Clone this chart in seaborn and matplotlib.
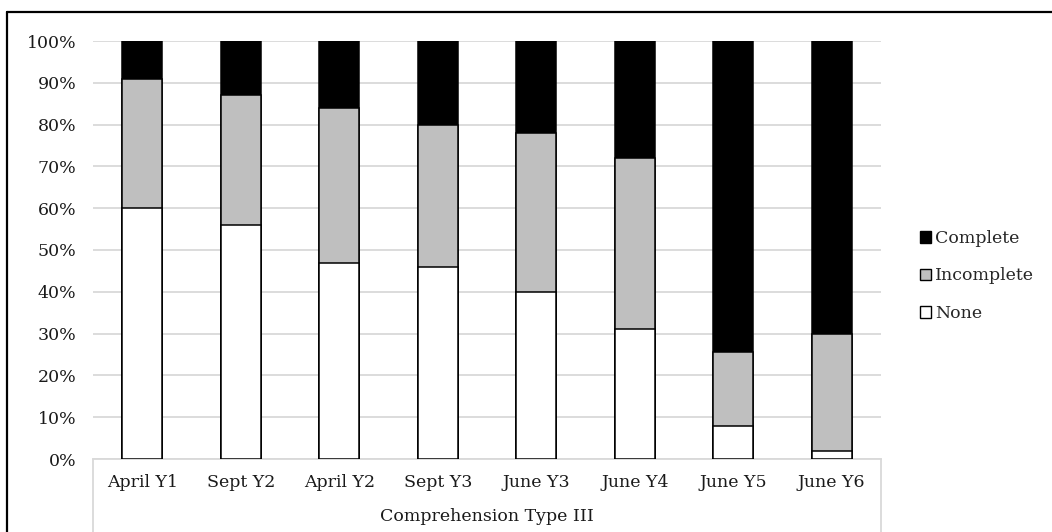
import matplotlib
matplotlib.use("Agg")
import matplotlib.pyplot as plt
from matplotlib.lines import Line2D
from matplotlib.patches import Patch
from matplotlib.ticker import PercentFormatter
import numpy as np
import pandas as pd
import seaborn as sns

# Share of pupils per outcome at each assessment point (%)
categories = ["April Y1", "Sept Y2", "April Y2", "Sept Y3",
              "June Y3", "June Y4", "June Y5", "June Y6"]
none_pct = [60, 56, 47, 46, 40, 31, 8, 2]
incomplete_pct = [31, 31, 37, 34, 38, 41, 17.5, 28]
complete_pct = [9, 13, 16, 20, 22, 28, 74.5, 70]
series_names = ["Complete", "Incomplete", "None"]
axis_title = "Comprehension Type III"

colors = {"Complete": "#000000", "Incomplete": "#bfbfbf", "None": "#ffffff"}
grid_color = "#d9d9d9"
text_color = "#1a1a1a"
fs = 12.5

sns.set_theme(style="white")
plt.rcParams["font.family"] = ["DejaVu Serif"]

# Stacked bars: draw cumulative tops, tallest first, so each layer overlays the previous
none_arr = np.array(none_pct, dtype=float)
inc_arr = np.array(incomplete_pct, dtype=float)
comp_arr = np.array(complete_pct, dtype=float)
tops = {
    "Complete": none_arr + inc_arr + comp_arr,
    "Incomplete": none_arr + inc_arr,
    "None": none_arr,
}
df = pd.concat(
    [pd.DataFrame({"category": categories, "series": name, "top": tops[name]})
     for name in series_names],
    ignore_index=True,
)

W, H = 1052, 532
fig = plt.figure(figsize=(W / 100, H / 100), dpi=100)
ax_l, ax_r, ax_t, ax_b = 93, 881, 41, 459
ax = fig.add_axes([ax_l / W, (H - ax_b) / H, (ax_r - ax_l) / W, (ax_b - ax_t) / H])

sns.barplot(
    data=df, x="category", y="top", hue="series",
    order=categories, hue_order=series_names, palette=colors,
    dodge=False, width=0.41, edgecolor="black", linewidth=1.1,
    legend=False, ax=ax, zorder=3,
)

ax.set_ylim(0, 100)
ax.set_xlim(-0.5, len(categories) - 0.5)
ax.set_yticks(np.arange(0, 101, 10))
ax.yaxis.set_major_formatter(PercentFormatter(decimals=0))
ax.yaxis.grid(True, color=grid_color, linewidth=1.3, zorder=0)
ax.set_axisbelow(True)
for side in ["left", "right", "top"]:
    ax.spines[side].set_visible(False)
ax.spines["bottom"].set_color(grid_color)
ax.spines["bottom"].set_linewidth(1.3)

ax.tick_params(axis="y", length=0, pad=12, labelsize=fs, labelcolor=text_color)
ax.tick_params(axis="x", length=0, pad=11, labelsize=fs, labelcolor=text_color)
ax.set_xlabel(axis_title, fontsize=fs, labelpad=12, color=text_color)
ax.set_ylabel("")

# Category box sides below the axis
for xpx in (ax_l, ax_r):
    fig.add_artist(Line2D([xpx / W, xpx / W], [0, (H - ax_b) / H],
                          transform=fig.transFigure, color=grid_color, linewidth=1.3))

# Chart frame (top and left edges)
fig.add_artist(Line2D([7 / W, 1], [(H - 12) / H, (H - 12) / H],
                      transform=fig.transFigure, color="black", linewidth=1.6))
fig.add_artist(Line2D([7 / W, 7 / W], [0, (H - 12) / H],
                      transform=fig.transFigure, color="black", linewidth=1.6))

handles = [Patch(facecolor=colors[n], edgecolor="black", linewidth=1.0, label=n)
           for n in series_names]
fig.legend(
    handles=handles, loc="center left", bbox_to_anchor=(920 / W, (H - 276) / H),
    frameon=False, fontsize=fs, handlelength=0.65, handleheight=0.65,
    handletextpad=0.2, labelspacing=1.17, borderaxespad=0, borderpad=0,
)

fig.savefig("out.png", dpi=100)
